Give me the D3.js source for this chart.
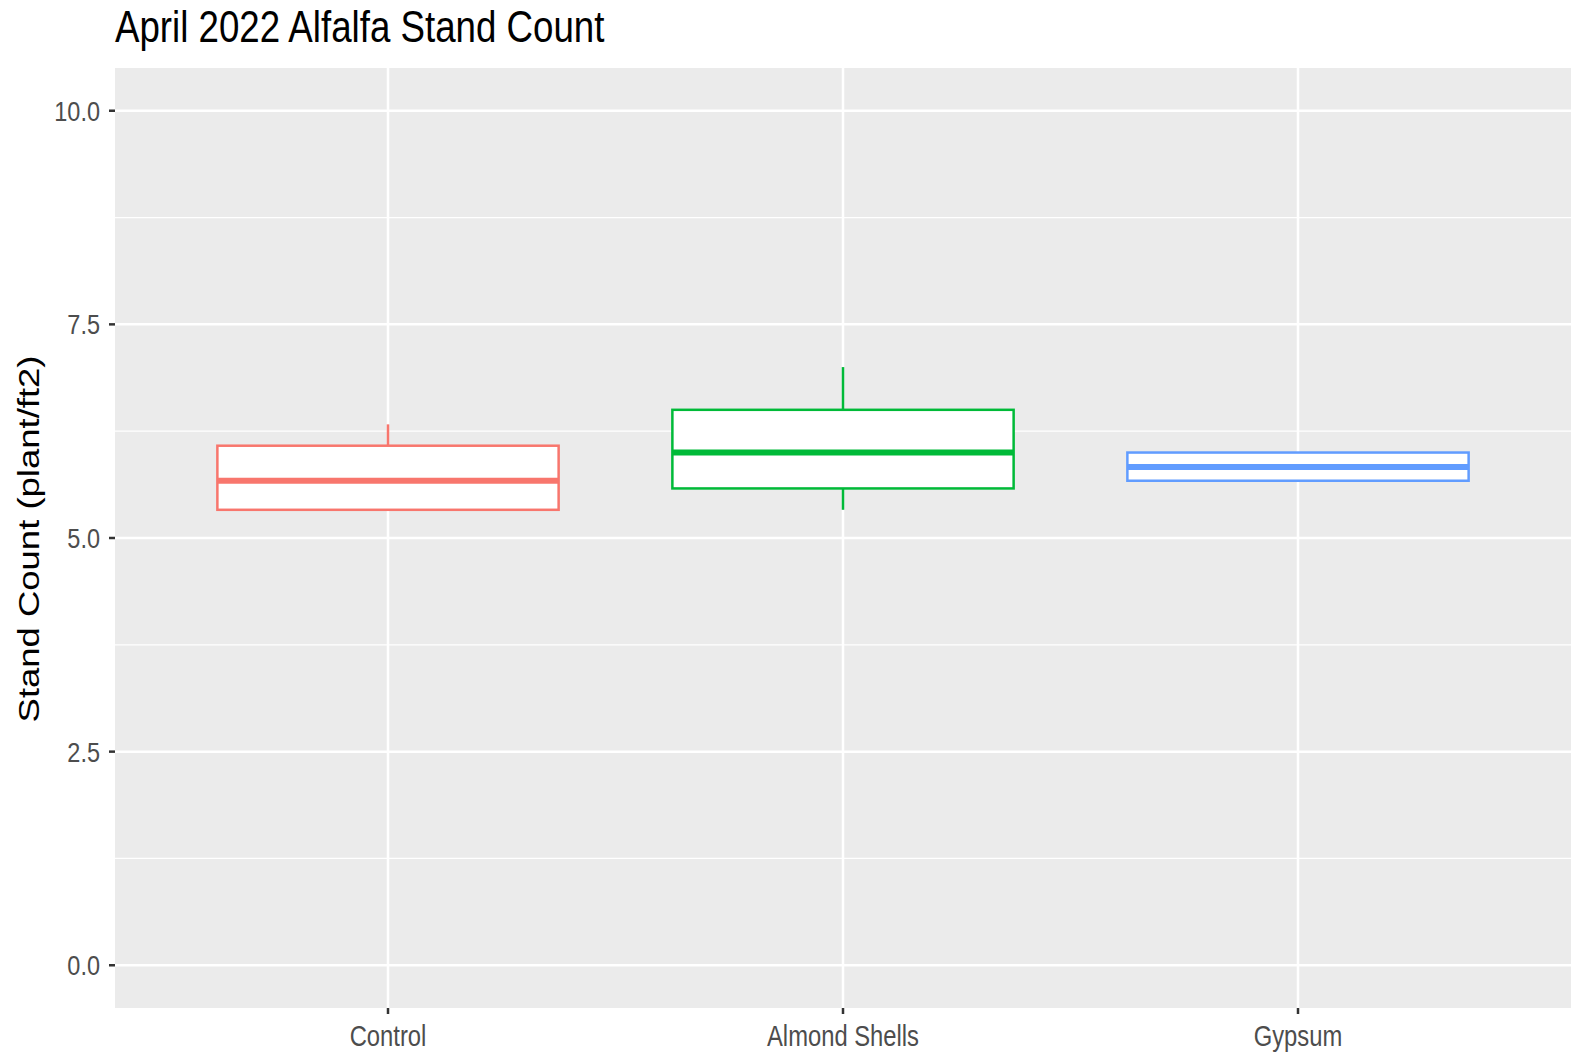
<!DOCTYPE html>
<html><head><meta charset="utf-8">
<script src="https://cdn.jsdelivr.net/npm/d3@7"></script>
<style>html,body{margin:0;padding:0;background:#fff}svg{display:block}text{font-family:"Liberation Sans",Arial,sans-serif}</style>
</head><body>
<svg id="c" width="1575" height="1054"></svg>
<script>
const categories = ["Control", "Almond Shells", "Gypsum"];
const lowerWhisker = [5.33, 5.33, 5.67];
const q1 = [5.33, 5.58, 5.67];
const median = [5.67, 6.0, 5.83];
const q3 = [6.08, 6.5, 6.0];
const upperWhisker = [6.33, 7.0, 6.0];
const colors = ["#F8766D", "#00BA38", "#619CFF"];
const yTicks = [0, 2.5, 5, 7.5, 10];
const yMinor = [1.25, 3.75, 6.25, 8.75];
const title = "April 2022 Alfalfa Stand Count";
const yTitle = "Stand Count (plant/ft2)";

const svg = d3.select("#c");
const P = {l: 115, r: 1571, t: 68, b: 1008};
const SY = 1.2;
const x = d3.scaleLinear().domain([0.4, 3.6]).range([P.l, P.r]);
const y = d3.scaleLinear().domain([-0.5, 10.5]).range([P.b, P.t]);
const bw = 0.75;

svg.append("rect").attr("x", P.l).attr("y", P.t).attr("width", P.r - P.l).attr("height", P.b - P.t).attr("fill", "#EBEBEB");
const g = svg.append("g");
g.selectAll(".mn").data(yMinor).join("line").attr("x1", P.l).attr("x2", P.r)
  .attr("y1", d => y(d)).attr("y2", d => y(d)).attr("stroke", "#fff").attr("stroke-width", 1.2);
g.selectAll(".mj").data(yTicks).join("line").attr("x1", P.l).attr("x2", P.r)
  .attr("y1", d => y(d)).attr("y2", d => y(d)).attr("stroke", "#fff").attr("stroke-width", 2.5);
g.selectAll(".vx").data(categories).join("line").attr("x1", (d, i) => x(i + 1)).attr("x2", (d, i) => x(i + 1))
  .attr("y1", P.t).attr("y2", P.b).attr("stroke", "#fff").attr("stroke-width", 2.5);

// boxes
categories.forEach((c, i) => {
  const cx = x(i + 1), col = colors[i];
  const bg = svg.append("g");
  bg.append("line").attr("x1", cx).attr("x2", cx).attr("y1", y(upperWhisker[i])).attr("y2", y(q3[i])).attr("stroke", col).attr("stroke-width", 2.5);
  bg.append("line").attr("x1", cx).attr("x2", cx).attr("y1", y(q1[i])).attr("y2", y(lowerWhisker[i])).attr("stroke", col).attr("stroke-width", 2.5);
  bg.append("rect").attr("x", x(i + 1 - bw / 2)).attr("width", x(i + 1 + bw / 2) - x(i + 1 - bw / 2))
    .attr("y", y(q3[i])).attr("height", y(q1[i]) - y(q3[i])).attr("fill", "#fff").attr("stroke", col).attr("stroke-width", 2.5);
  bg.append("line").attr("x1", x(i + 1 - bw / 2)).attr("x2", x(i + 1 + bw / 2)).attr("y1", y(median[i])).attr("y2", y(median[i]))
    .attr("stroke", col).attr("stroke-width", 6);
});

// y axis ticks and labels
svg.selectAll(".yt").data(yTicks).join("line").attr("x1", P.l - 6).attr("x2", P.l).attr("y1", d => y(d)).attr("y2", d => y(d))
  .attr("stroke", "#333").attr("stroke-width", 2.5);
svg.selectAll(".yl").data(yTicks).join("text")
  .attr("transform", d => `translate(${P.l - 15},${y(d)}) scale(1,${SY})`)
  .attr("text-anchor", "end").attr("dy", "0.35em").attr("font-size", 23.5).attr("fill", "#4D4D4D")
  .text(d => d3.format(".1f")(d));

// x axis ticks and labels
svg.selectAll(".xt").data(categories).join("line").attr("x1", (d, i) => x(i + 1)).attr("x2", (d, i) => x(i + 1))
  .attr("y1", P.b).attr("y2", P.b + 6).attr("stroke", "#333").attr("stroke-width", 2.5);
svg.selectAll(".xl").data(categories).join("text")
  .attr("transform", (d, i) => `translate(${x(i + 1)},${1046}) scale(1,${SY})`)
  .attr("text-anchor", "middle").attr("font-size", 23.8).attr("fill", "#4D4D4D").text(d => d);

// titles
svg.append("text").attr("transform", `translate(115,42) scale(1,${SY})`).attr("font-size", 36.7).attr("fill", "#000").text(title);
svg.append("text").attr("transform", `translate(39,539) scale(1,${SY}) rotate(-90)`).attr("text-anchor", "middle")
  .attr("font-size", 30.4).attr("fill", "#000").text(yTitle);
</script>
</body></html>
